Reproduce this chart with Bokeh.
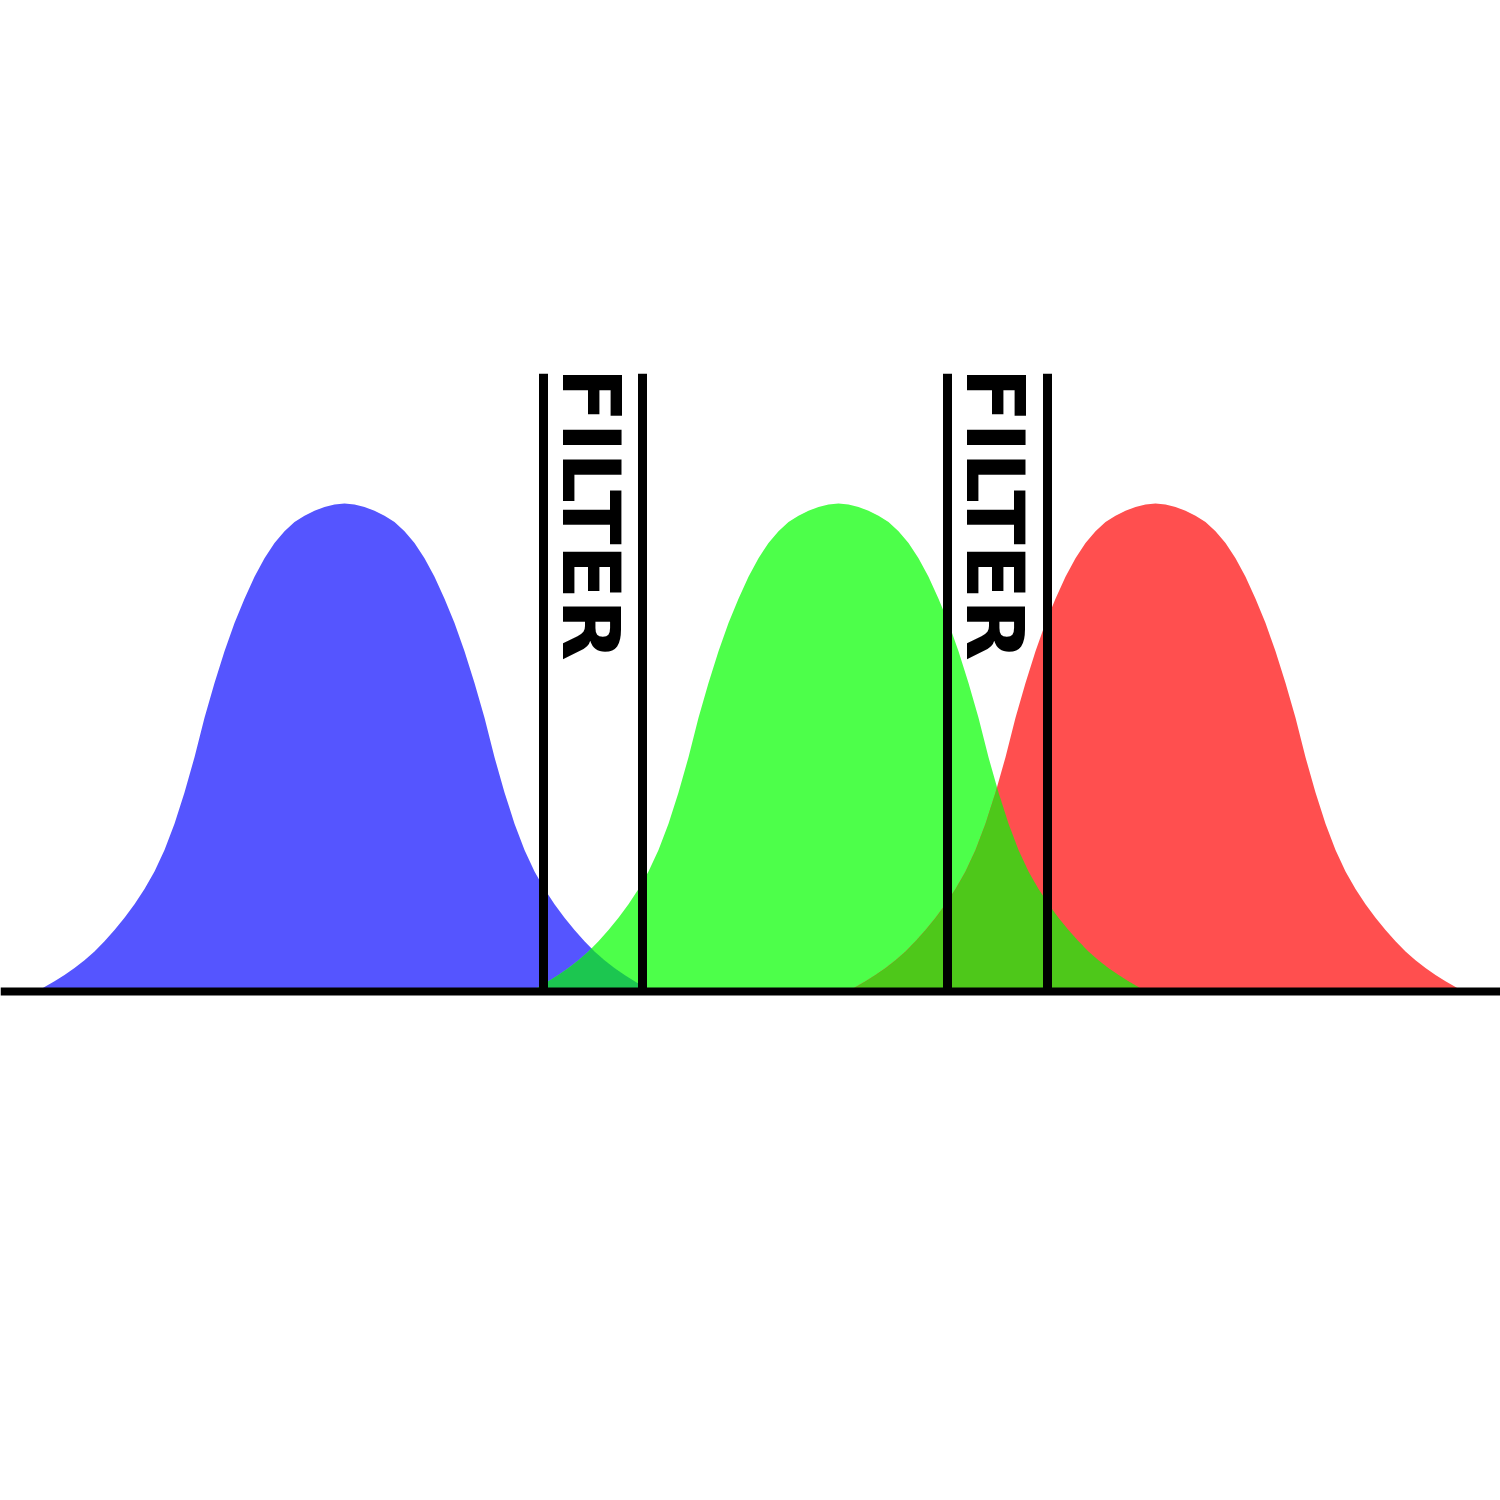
import numpy as np
from bokeh.plotting import figure
from bokeh.models import Range1d, Span
from bokeh.core.properties import value
from bokeh.embed import file_html
from bokeh.resources import INLINE

# --- data -------------------------------------------------------------
# half profile of each bell (offset from centre, relative height)
profile_offset = [0, 10, 20, 30, 40, 50, 60, 70, 80, 90, 100, 110, 120, 130,
                  140, 150, 160, 170, 180, 190, 200, 210, 220, 230, 240, 250,
                  260, 270, 280, 290, 300, 307]
profile_height = [1.000, 0.998, 0.993, 0.985, 0.975, 0.962, 0.943, 0.919,
                  0.888, 0.850, 0.805, 0.755, 0.697, 0.632, 0.561, 0.480,
                  0.408, 0.344, 0.290, 0.246, 0.210, 0.179, 0.151, 0.126,
                  0.103, 0.082, 0.064, 0.048, 0.034, 0.021, 0.009, 0.000]

curve_names = ["blue", "green", "red"]
curve_centers = [344, 838, 1155]
curve_colors = ["#5555ff", "#4dff4a", "#ff4f4f"]

overlap_pairs = [(0, 1), (1, 2)]
overlap_colors = ["#1cc650", "#4ec81a"]

filter_left = [543, 947]
filter_right = [642, 1047]
filter_top = 1.266
filter_label = "FILTER"

# --- figure -------------------------------------------------------------
W = H = 1500
p = figure(width=W, height=H, output_backend="svg", toolbar_location=None,
           x_range=Range1d(0, 1500), y_range=Range1d(-1.043033, 2.030738),
           min_border=0)
p.axis.visible = False
p.grid.visible = False
p.outline_line_color = None
p.background_fill_color = "white"
p.border_fill_color = "white"

off = np.array(profile_offset, dtype=float)
hgt = np.array(profile_height, dtype=float)


def bell(c):
    xs = np.concatenate([c - off[::-1], c + off[1:]])
    ys = np.concatenate([hgt[::-1], hgt[1:]])
    return xs, ys


curves = [bell(c) for c in curve_centers]
for (xs, ys), col in zip(curves, curve_colors):
    p.varea(x=xs, y1=np.zeros_like(ys), y2=ys, fill_color=col)

for (a, b), col in zip(overlap_pairs, overlap_colors):
    xa, ya = curves[a]
    xb, yb = curves[b]
    lo = max(xa.min(), xb.min())
    hi = min(xa.max(), xb.max())
    grid = np.linspace(lo, hi, 600)
    ymin = np.minimum(np.interp(grid, xa, ya), np.interp(grid, xb, yb))
    p.varea(x=grid, y1=np.zeros_like(ymin), y2=ymin, fill_color=col)

for xl, xr in zip(filter_left, filter_right):
    p.segment(x0=[xl, xr], y0=[0, 0], x1=[xl, xr], y1=[filter_top, filter_top],
              line_color="black", line_width=9)

p.text(x=[xl + 47 for xl in filter_left],
       y=[filter_top + 0.012] * len(filter_left),
       text=[filter_label] * len(filter_left), angle=-np.pi / 2,
       text_font=value("DejaVu Sans"), text_font_style="bold",
       text_font_size="80px", text_align="left", text_baseline="alphabetic",
       text_color="black")

p.add_layout(Span(location=0, dimension="width", line_color="black",
                  line_width=8))

open("out.html", "w").write(file_html(p, INLINE))
